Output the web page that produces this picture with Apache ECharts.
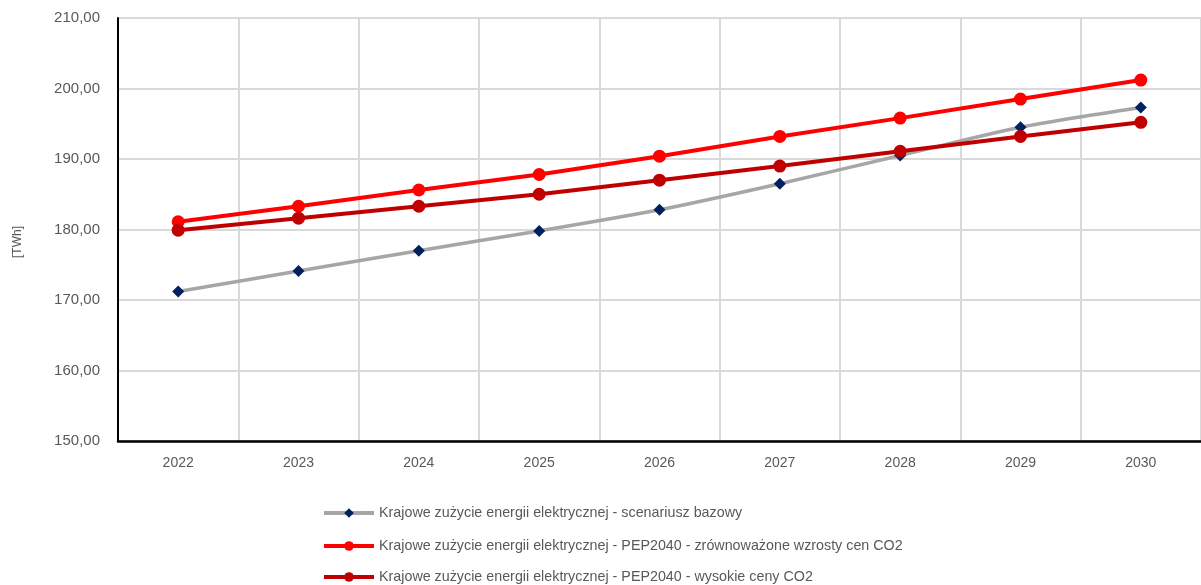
<!DOCTYPE html>
<html>
<head>
<meta charset="utf-8">
<script src="https://cdn.jsdelivr.net/npm/echarts@6/dist/echarts.min.js"></script>
<style>
  html, body { margin: 0; padding: 0; background: #fff; }
  #chart { width: 1201px; height: 585px; }
</style>
</head>
<body>
<div id="chart"></div>
<script>
// Years on the category axis
const years = ['2022', '2023', '2024', '2025', '2026', '2027', '2028', '2029', '2030'];

// National electricity consumption [TWh]
const bazowy = [171.2, 174.1, 177.0, 179.8, 182.8, 186.5, 190.5, 194.5, 197.3];
const zrownowazone = [181.1, 183.3, 185.6, 187.8, 190.4, 193.2, 195.8, 198.5, 201.2];
const wysokie = [179.9, 181.6, 183.3, 185.0, 187.0, 189.0, 191.1, 193.2, 195.2];

const seriesNames = [
  'Krajowe zużycie energii elektrycznej - scenariusz bazowy',
  'Krajowe zużycie energii elektrycznej - PEP2040 - zrównoważone wzrosty cen CO2',
  'Krajowe zużycie energii elektrycznej - PEP2040 - wysokie ceny CO2'
];

const fmt = v => v.toFixed(2).replace('.', ',');
const FONT = '"Liberation Sans", "DejaVu Sans", sans-serif';
const GREY_TEXT = '#595959';

// One legend row per series, stacked under the plot
const legendTops = [501, 534, 565];
const legends = seriesNames.map((name, i) => ({
  left: 317,
  top: legendTops[i],
  itemWidth: 50,
  itemHeight: 12,
  lineStyle: { width: 4 },
  textStyle: { color: GREY_TEXT, fontSize: 14.3, fontFamily: FONT },
  data: [name]
}));

const chart = echarts.init(document.getElementById('chart'), null, { renderer: 'canvas' });

chart.setOption({
  animation: false,
  textStyle: { fontFamily: FONT },
  grid: { left: 118, right: -3, top: 18, bottom: 144, containLabel: false },
  legend: legends,
  graphic: [
    {
      type: 'text',
      left: 12,
      top: 226,
      rotation: Math.PI / 2,
      style: { text: '[TWh]', fill: GREY_TEXT, font: '12px ' + FONT }
    }
  ],
  xAxis: {
    type: 'category',
    data: years,
    boundaryGap: true,
    axisLine: { lineStyle: { color: '#000', width: 2.5 } },
    axisTick: { show: false },
    axisLabel: { color: GREY_TEXT, fontSize: 14, margin: 15 },
    splitLine: { show: true, interval: 0, lineStyle: { color: '#d9d9d9', width: 2 } }
  },
  yAxis: {
    type: 'value',
    min: 150,
    max: 210,
    interval: 10,
    axisLine: { show: true, lineStyle: { color: '#000', width: 2 } },
    axisTick: { show: false },
    axisLabel: { color: GREY_TEXT, fontSize: 15, margin: 18, formatter: fmt },
    splitLine: { lineStyle: { color: '#d9d9d9', width: 2 } }
  },
  series: [
    {
      name: seriesNames[0],
      type: 'line',
      data: bazowy,
      smooth: 0.25,
      symbol: 'diamond',
      symbolSize: 12,
      lineStyle: { color: '#a6a6a6', width: 3.5 },
      itemStyle: { color: '#002060' },
      z: 2
    },
    {
      name: seriesNames[1],
      type: 'line',
      data: zrownowazone,
      symbol: 'circle',
      symbolSize: 13,
      lineStyle: { color: '#ff0000', width: 4 },
      itemStyle: { color: '#ff0000' },
      z: 3
    },
    {
      name: seriesNames[2],
      type: 'line',
      data: wysokie,
      symbol: 'circle',
      symbolSize: 13,
      lineStyle: { color: '#c00000', width: 4 },
      itemStyle: { color: '#c00000' },
      z: 4
    }
  ]
});
</script>
</body>
</html>
